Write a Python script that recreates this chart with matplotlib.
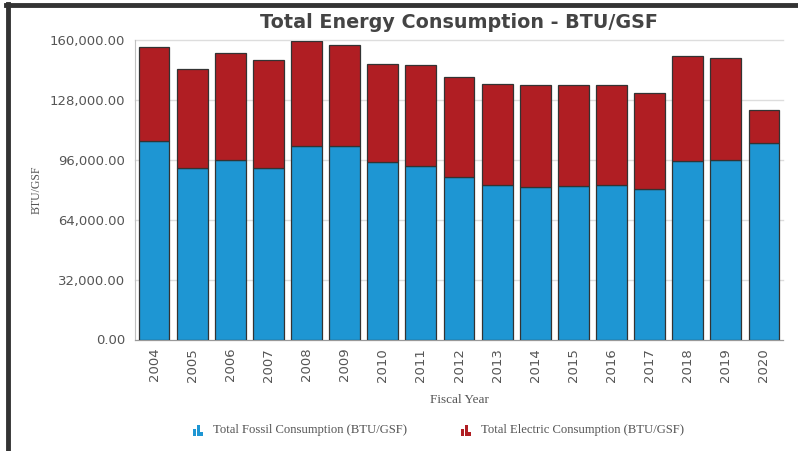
import numpy as np
import matplotlib.pyplot as plt
from matplotlib.patches import Rectangle
from matplotlib.lines import Line2D
from matplotlib.ticker import FuncFormatter

# data (BTU/GSF)
years = ['2004', '2005', '2006', '2007', '2008', '2009', '2010', '2011', '2012',
         '2013', '2014', '2015', '2016', '2017', '2018', '2019', '2020']
total = [156400, 144700, 153200, 149700, 159600, 157700, 147600, 147000, 140600,
         136900, 136200, 136200, 136100, 131700, 151500, 150400, 122800]
fossil = [106300, 91600, 96200, 91600, 103600, 103600, 95100, 92800, 87100,
          82700, 81400, 82100, 82700, 80400, 95500, 96200, 105200]
electric = [t - f for t, f in zip(total, fossil)]

blue = '#1e96d3'
red = '#b01e23'
grey_txt = '#555555'

fig = plt.figure(figsize=(7.98, 4.51), dpi=100)
ax = fig.add_axes([135/798, 1 - 339.5/451, 648/798, 299/451])

x = np.arange(len(years))
ax.bar(x, fossil, width=0.81, color=blue, edgecolor='#333333', linewidth=0.9, zorder=3)
ax.bar(x, electric, bottom=fossil, width=0.81, color=red, edgecolor='#333333',
       linewidth=0.9, zorder=3)

ax.set_xlim(-0.5, len(years) - 0.5)
ax.set_ylim(0, 160000)
ax.set_yticks([0, 32000, 64000, 96000, 128000, 160000])
ax.yaxis.set_major_formatter(FuncFormatter(lambda v, p: f'{v:,.2f}'))
ax.set_xticks(x)
ax.set_xticklabels(years, rotation=90)
ax.tick_params(axis='both', length=0, colors=grey_txt, labelsize=9.5)
ax.tick_params(axis='y', pad=7)
ax.tick_params(axis='x', pad=6)
ax.grid(axis='y', color='#dddddd', linewidth=1, zorder=0)
for gl in ax.get_ygridlines():
    gl.set_clip_on(False)

for s in ['top', 'right']:
    ax.spines[s].set_visible(False)
ax.spines['left'].set_color('#c0c0c0')
ax.spines['bottom'].set_color('#999999')

fig.text(37/798, 1 - 190/451, 'BTU/GSF', family='Liberation Serif', fontsize=8.5,
         color=grey_txt, rotation=90, ha='center', va='center')
ax.set_xlabel('Fiscal Year', family='Liberation Serif', fontsize=9.5, color=grey_txt, labelpad=9)

fig.text(459/798, 1 - 22/451, 'Total Energy Consumption - BTU/GSF', ha='center', va='center',
         fontsize=13.8, fontweight='bold', color='#444444')

# frame lines on the left and top
fig.add_artist(Line2D([8/798, 8/798], [0, 1 - 4/451], color='#333333', linewidth=3.5,
                      transform=fig.transFigure))
fig.add_artist(Line2D([6/798, 1], [1 - 4.5/451, 1 - 4.5/451], color='#333333', linewidth=3.5,
                      transform=fig.transFigure))

# legend with small bar icons
def icon(x0, y0, col):
    for dx, h in [(0, 7), (3.7, 11), (7.4, 4)]:
        fig.add_artist(Rectangle(((x0 + dx)/798, (451 - y0)/451), 2.9/798, h/451,
                                 facecolor=col, linewidth=0, transform=fig.transFigure))

icon(193, 435.5, blue)
fig.text(213/798, 1 - 430/451, 'Total Fossil Consumption (BTU/GSF)', family='Liberation Serif',
         fontsize=9.1, color=grey_txt, va='center')
icon(461, 435.5, red)
fig.text(481/798, 1 - 430/451, 'Total Electric Consumption (BTU/GSF)', family='Liberation Serif',
         fontsize=9.1, color=grey_txt, va='center')

fig.savefig('out.png', dpi=100)
